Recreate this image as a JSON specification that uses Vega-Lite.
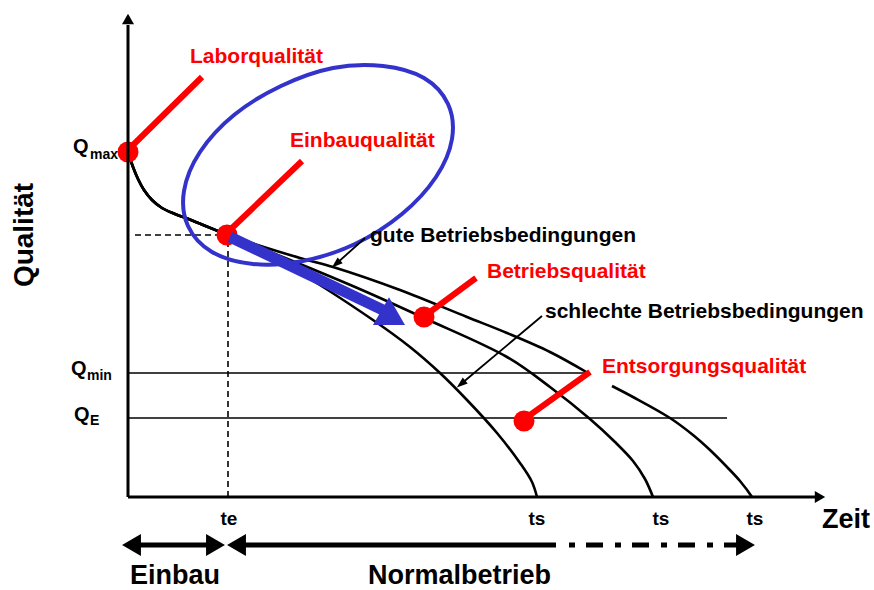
{
  "$schema": "https://vega.github.io/schema/vega-lite/v6.json",
  "width": 874,
  "height": 590,
  "autosize": "none",
  "padding": 0,
  "background": "white",
  "config": {"view": {"stroke": null}, "font": "Liberation Sans"},
  "datasets": {
    "kurven": [
      {"kurve": "gut_a", "i": 1, "zeit": 0, "qualitaet": 345},
      {"kurve": "gut_a", "i": 2, "zeit": 5, "qualitaet": 330},
      {"kurve": "gut_a", "i": 3, "zeit": 10, "qualitaet": 318},
      {"kurve": "gut_a", "i": 4, "zeit": 16, "qualitaet": 307},
      {"kurve": "gut_a", "i": 5, "zeit": 24, "qualitaet": 297},
      {"kurve": "gut_a", "i": 6, "zeit": 34, "qualitaet": 289},
      {"kurve": "gut_a", "i": 7, "zeit": 47, "qualitaet": 283},
      {"kurve": "gut_a", "i": 8, "zeit": 63, "qualitaet": 277},
      {"kurve": "gut_a", "i": 9, "zeit": 80, "qualitaet": 270},
      {"kurve": "gut_a", "i": 10, "zeit": 100, "qualitaet": 262},
      {"kurve": "gut_a", "i": 11, "zeit": 172, "qualitaet": 239},
      {"kurve": "gut_a", "i": 12, "zeit": 205, "qualitaet": 230},
      {"kurve": "gut_a", "i": 13, "zeit": 272, "qualitaet": 207},
      {"kurve": "gut_a", "i": 14, "zeit": 339, "qualitaet": 180},
      {"kurve": "gut_a", "i": 15, "zeit": 379, "qualitaet": 164},
      {"kurve": "gut_a", "i": 16, "zeit": 422, "qualitaet": 145},
      {"kurve": "gut_a", "i": 17, "zeit": 460, "qualitaet": 124},
      {"kurve": "gut_b", "i": 1, "zeit": 484, "qualitaet": 111},
      {"kurve": "gut_b", "i": 2, "zeit": 505, "qualitaet": 100},
      {"kurve": "gut_b", "i": 3, "zeit": 542, "qualitaet": 79},
      {"kurve": "gut_b", "i": 4, "zeit": 565, "qualitaet": 62},
      {"kurve": "gut_b", "i": 5, "zeit": 582, "qualitaet": 47},
      {"kurve": "gut_b", "i": 6, "zeit": 599, "qualitaet": 30},
      {"kurve": "gut_b", "i": 7, "zeit": 612, "qualitaet": 16},
      {"kurve": "gut_b", "i": 8, "zeit": 624, "qualitaet": 0},
      {"kurve": "mittel", "i": 1, "zeit": 0, "qualitaet": 345},
      {"kurve": "mittel", "i": 2, "zeit": 5, "qualitaet": 330},
      {"kurve": "mittel", "i": 3, "zeit": 10, "qualitaet": 318},
      {"kurve": "mittel", "i": 4, "zeit": 16, "qualitaet": 307},
      {"kurve": "mittel", "i": 5, "zeit": 24, "qualitaet": 297},
      {"kurve": "mittel", "i": 6, "zeit": 34, "qualitaet": 289},
      {"kurve": "mittel", "i": 7, "zeit": 47, "qualitaet": 283},
      {"kurve": "mittel", "i": 8, "zeit": 63, "qualitaet": 277},
      {"kurve": "mittel", "i": 9, "zeit": 80, "qualitaet": 270},
      {"kurve": "mittel", "i": 10, "zeit": 100, "qualitaet": 262},
      {"kurve": "mittel", "i": 11, "zeit": 172, "qualitaet": 233},
      {"kurve": "mittel", "i": 12, "zeit": 234, "qualitaet": 207},
      {"kurve": "mittel", "i": 13, "zeit": 296, "qualitaet": 179},
      {"kurve": "mittel", "i": 14, "zeit": 379, "qualitaet": 140},
      {"kurve": "mittel", "i": 15, "zeit": 422, "qualitaet": 110},
      {"kurve": "mittel", "i": 16, "zeit": 462, "qualitaet": 78},
      {"kurve": "mittel", "i": 17, "zeit": 487, "qualitaet": 55},
      {"kurve": "mittel", "i": 18, "zeit": 505, "qualitaet": 36},
      {"kurve": "mittel", "i": 19, "zeit": 517, "qualitaet": 18},
      {"kurve": "mittel", "i": 20, "zeit": 525, "qualitaet": 0},
      {"kurve": "schlecht", "i": 1, "zeit": 0, "qualitaet": 345},
      {"kurve": "schlecht", "i": 2, "zeit": 5, "qualitaet": 330},
      {"kurve": "schlecht", "i": 3, "zeit": 10, "qualitaet": 318},
      {"kurve": "schlecht", "i": 4, "zeit": 16, "qualitaet": 307},
      {"kurve": "schlecht", "i": 5, "zeit": 24, "qualitaet": 297},
      {"kurve": "schlecht", "i": 6, "zeit": 34, "qualitaet": 289},
      {"kurve": "schlecht", "i": 7, "zeit": 47, "qualitaet": 283},
      {"kurve": "schlecht", "i": 8, "zeit": 63, "qualitaet": 277},
      {"kurve": "schlecht", "i": 9, "zeit": 80, "qualitaet": 270},
      {"kurve": "schlecht", "i": 10, "zeit": 100, "qualitaet": 262},
      {"kurve": "schlecht", "i": 11, "zeit": 132, "qualitaet": 245},
      {"kurve": "schlecht", "i": 12, "zeit": 172, "qualitaet": 224},
      {"kurve": "schlecht", "i": 13, "zeit": 245, "qualitaet": 177},
      {"kurve": "schlecht", "i": 14, "zeit": 282, "qualitaet": 150},
      {"kurve": "schlecht", "i": 15, "zeit": 312, "qualitaet": 124},
      {"kurve": "schlecht", "i": 16, "zeit": 339, "qualitaet": 97},
      {"kurve": "schlecht", "i": 17, "zeit": 369, "qualitaet": 64},
      {"kurve": "schlecht", "i": 18, "zeit": 392, "qualitaet": 34},
      {"kurve": "schlecht", "i": 19, "zeit": 404, "qualitaet": 15},
      {"kurve": "schlecht", "i": 20, "zeit": 409, "qualitaet": 0}
    ],
    "ellipse": [
      {"i": 1, "zeit": 320, "qualitaet": 393},
      {"i": 2, "zeit": 324, "qualitaet": 358},
      {"i": 3, "zeit": 308, "qualitaet": 320},
      {"i": 4, "zeit": 274, "qualitaet": 283},
      {"i": 5, "zeit": 227, "qualitaet": 253},
      {"i": 6, "zeit": 175, "qualitaet": 236},
      {"i": 7, "zeit": 125, "qualitaet": 233},
      {"i": 8, "zeit": 84, "qualitaet": 245},
      {"i": 9, "zeit": 60, "qualitaet": 271},
      {"i": 10, "zeit": 56, "qualitaet": 306},
      {"i": 11, "zeit": 72, "qualitaet": 345},
      {"i": 12, "zeit": 106, "qualitaet": 382},
      {"i": 13, "zeit": 153, "qualitaet": 411},
      {"i": 14, "zeit": 205, "qualitaet": 429},
      {"i": 15, "zeit": 255, "qualitaet": 431},
      {"i": 16, "zeit": 296, "qualitaet": 419}
    ],
    "strecken": [
      {"art": "achse", "zeit": 0, "qualitaet": 0, "zeit2": 0, "qualitaet2": 472},
      {"art": "achse", "zeit": 0, "qualitaet": 0, "zeit2": 688, "qualitaet2": 0},
      {"art": "niveau", "name": "Qmin", "zeit": 0, "qualitaet": 124, "zeit2": 460, "qualitaet2": 124},
      {"art": "niveau", "name": "QE", "zeit": 0, "qualitaet": 79, "zeit2": 599, "qualitaet2": 79},
      {"art": "hilfslinie", "zeit": 7, "qualitaet": 262, "zeit2": 90, "qualitaet2": 262},
      {"art": "hilfslinie", "zeit": 100, "qualitaet": 0, "zeit2": 100, "qualitaet2": 252},
      {"art": "rot", "name": "Laborqualität", "zeit": 5, "qualitaet": 352, "zeit2": 74, "qualitaet2": 420},
      {"art": "rot", "name": "Einbauqualität", "zeit": 104, "qualitaet": 269, "zeit2": 174, "qualitaet2": 336},
      {"art": "rot", "name": "Betriebsqualität", "zeit": 302, "qualitaet": 185, "zeit2": 348, "qualitaet2": 219},
      {"art": "rot", "name": "Entsorgungsqualität", "zeit": 402, "qualitaet": 82, "zeit2": 462, "qualitaet2": 125},
      {"art": "blau", "zeit": 102, "qualitaet": 260, "zeit2": 257, "qualitaet2": 186},
      {"art": "zeiger", "name": "gut", "zeit": 237, "qualitaet": 259, "zeit2": 208, "qualitaet2": 233},
      {"art": "zeiger", "name": "schlecht", "zeit": 414, "qualitaet": 181, "zeit2": 333, "qualitaet2": 113},
      {"art": "phase", "name": "Einbau", "zeit": 7, "qualitaet": -48, "zeit2": 87, "qualitaet2": -48},
      {"art": "phase", "name": "Normalbetrieb", "zeit": 112, "qualitaet": -48, "zeit2": 428, "qualitaet2": -48},
      {"art": "phase_offen", "name": "Normalbetrieb", "zeit": 441, "qualitaet": -48, "zeit2": 612, "qualitaet2": -48}
    ],
    "spitzen": [
      {"art": "y_achse", "zeit": 0, "qualitaet": 478},
      {"art": "x_achse", "zeit": 692, "qualitaet": 0},
      {"art": "blau", "zeit": 265, "qualitaet": 179},
      {"art": "zeiger_gut", "zeit": 208, "qualitaet": 233},
      {"art": "zeiger_schlecht", "zeit": 333, "qualitaet": 113},
      {"art": "phase_links", "zeit": 3.5, "qualitaet": -48},
      {"art": "phase_links", "zeit": 108.5, "qualitaet": -48},
      {"art": "phase_rechts", "zeit": 87.5, "qualitaet": -48},
      {"art": "phase_rechts", "zeit": 617.5, "qualitaet": -48}
    ],
    "marken": [
      {"name": "Laborqualität", "zeit": 0, "qualitaet": 345},
      {"name": "Einbauqualität", "zeit": 99, "qualitaet": 262},
      {"name": "Betriebsqualität", "zeit": 296, "qualitaet": 180},
      {"name": "Entsorgungsqualität", "zeit": 396, "qualitaet": 76}
    ],
    "texte": [
      {"art": "rot", "text": "Laborqualität", "zeit": 62, "qualitaet": 434},
      {"art": "rot", "text": "Einbauqualität", "zeit": 162, "qualitaet": 350},
      {"art": "rot", "text": "Betriebsqualität", "zeit": 359, "qualitaet": 219},
      {"art": "rot", "text": "Entsorgungsqualität", "zeit": 474, "qualitaet": 124},
      {"art": "schwarz", "text": "gute Betriebsbedingungen", "zeit": 242, "qualitaet": 255},
      {"art": "schwarz", "text": "schlechte Betriebsbedingungen", "zeit": 417, "qualitaet": 179},
      {"art": "gross", "text": "Zeit", "zeit": 694, "qualitaet": -31},
      {"art": "gross", "text": "Einbau", "zeit": 2, "qualitaet": -87},
      {"art": "gross", "text": "Normalbetrieb", "zeit": 240, "qualitaet": -87},
      {"art": "tick", "text": "te", "zeit": 101, "qualitaet": -28},
      {"art": "tick", "text": "ts", "zeit": 409, "qualitaet": -28},
      {"art": "tick", "text": "ts", "zeit": 533, "qualitaet": -28},
      {"art": "tick", "text": "ts", "zeit": 627, "qualitaet": -28},
      {"art": "Q", "text": "Q", "zeit": -55, "qualitaet": 344},
      {"art": "Q", "text": "Q", "zeit": -57, "qualitaet": 122},
      {"art": "Q", "text": "Q", "zeit": -54, "qualitaet": 76},
      {"art": "index", "text": "max", "zeit": -38, "qualitaet": 338},
      {"art": "index", "text": "min", "zeit": -41, "qualitaet": 117},
      {"art": "index", "text": "E", "zeit": -38, "qualitaet": 72},
      {"art": "titel", "text": "Qualität", "zeit": -95, "qualitaet": 262}
    ]
  },
  "encoding": {
    "x": {"field": "zeit", "type": "quantitative", "scale": {"domain": [-128, 746], "nice": false, "zero": false}, "axis": null},
    "y": {"field": "qualitaet", "type": "quantitative", "scale": {"domain": [-93, 497], "nice": false, "zero": false}, "axis": null}
  },
  "layer": [
    {
      "data": {"name": "kurven"},
      "mark": {"type": "line", "interpolate": "catmull-rom", "color": "black", "strokeWidth": 2.6},
      "encoding": {"detail": {"field": "kurve"}, "order": {"field": "i", "type": "quantitative"}}
    },
    {
      "data": {"name": "strecken"},
      "transform": [{"filter": "datum.art === 'niveau'"}],
      "mark": {"type": "rule", "color": "black", "strokeWidth": 1.6},
      "encoding": {"x2": {"field": "zeit2"}, "y2": {"field": "qualitaet2"}}
    },
    {
      "data": {"name": "strecken"},
      "transform": [{"filter": "datum.art === 'hilfslinie'"}],
      "mark": {"type": "rule", "color": "black", "strokeWidth": 1.6, "strokeDash": [6, 4]},
      "encoding": {"x2": {"field": "zeit2"}, "y2": {"field": "qualitaet2"}}
    },
    {
      "data": {"name": "ellipse"},
      "mark": {"type": "line", "interpolate": "cardinal-closed", "color": "#3333CC", "strokeWidth": 4},
      "encoding": {"order": {"field": "i", "type": "quantitative"}}
    },
    {
      "data": {"name": "strecken"},
      "transform": [{"filter": "datum.art === 'rot'"}],
      "mark": {"type": "rule", "color": "#FF0000", "strokeWidth": 6},
      "encoding": {"x2": {"field": "zeit2"}, "y2": {"field": "qualitaet2"}}
    },
    {
      "data": {"name": "marken"},
      "mark": {"type": "point", "shape": "circle", "filled": true, "color": "#FF0000", "opacity": 1, "size": 441, "strokeWidth": 0}
    },
    {
      "data": {"name": "strecken"},
      "transform": [{"filter": "datum.art === 'blau'"}],
      "mark": {"type": "rule", "color": "#3333CC", "strokeWidth": 11},
      "encoding": {"x2": {"field": "zeit2"}, "y2": {"field": "qualitaet2"}}
    },
    {
      "data": {"name": "spitzen"},
      "transform": [{"filter": "datum.art === 'blau'"}],
      "mark": {"type": "point", "shape": "triangle-right", "angle": 30, "filled": true, "color": "#3333CC", "opacity": 1, "size": 1024, "strokeWidth": 0}
    },
    {
      "data": {"name": "strecken"},
      "transform": [{"filter": "datum.art === 'zeiger'"}],
      "mark": {"type": "rule", "color": "black", "strokeWidth": 1.8},
      "encoding": {"x2": {"field": "zeit2"}, "y2": {"field": "qualitaet2"}}
    },
    {
      "data": {"name": "spitzen"},
      "transform": [{"filter": "datum.art === 'zeiger_gut'"}],
      "mark": {"type": "point", "shape": "M-1,-0.7L1,0L-1,0.7Z", "angle": 139, "filled": true, "color": "black", "opacity": 1, "size": 121, "strokeWidth": 0}
    },
    {
      "data": {"name": "spitzen"},
      "transform": [{"filter": "datum.art === 'zeiger_schlecht'"}],
      "mark": {"type": "point", "shape": "M-1,-0.7L1,0L-1,0.7Z", "angle": 140, "filled": true, "color": "black", "opacity": 1, "size": 121, "strokeWidth": 0}
    },
    {
      "data": {"name": "strecken"},
      "transform": [{"filter": "datum.art === 'achse'"}],
      "mark": {"type": "rule", "color": "black", "strokeWidth": 3},
      "encoding": {"x2": {"field": "zeit2"}, "y2": {"field": "qualitaet2"}}
    },
    {
      "data": {"name": "spitzen"},
      "transform": [{"filter": "datum.art === 'y_achse'"}],
      "mark": {"type": "point", "shape": "triangle-up", "filled": true, "color": "black", "opacity": 1, "size": 144, "strokeWidth": 0}
    },
    {
      "data": {"name": "spitzen"},
      "transform": [{"filter": "datum.art === 'x_achse'"}],
      "mark": {"type": "point", "shape": "triangle-right", "filled": true, "color": "black", "opacity": 1, "size": 144, "strokeWidth": 0}
    },
    {
      "data": {"name": "strecken"},
      "transform": [{"filter": "datum.art === 'phase'"}],
      "mark": {"type": "rule", "color": "black", "strokeWidth": 5},
      "encoding": {"x2": {"field": "zeit2"}, "y2": {"field": "qualitaet2"}}
    },
    {
      "data": {"name": "strecken"},
      "transform": [{"filter": "datum.art === 'phase_offen'"}],
      "mark": {"type": "rule", "color": "black", "strokeWidth": 5, "strokeDash": [6, 11, 17, 12]},
      "encoding": {"x2": {"field": "zeit2"}, "y2": {"field": "qualitaet2"}}
    },
    {
      "data": {"name": "spitzen"},
      "transform": [{"filter": "datum.art === 'phase_links'"}],
      "mark": {"type": "point", "shape": "M0.86,-1L-0.86,0L0.86,1Z", "filled": true, "color": "black", "opacity": 1, "size": 484, "strokeWidth": 0}
    },
    {
      "data": {"name": "spitzen"},
      "transform": [{"filter": "datum.art === 'phase_rechts'"}],
      "mark": {"type": "point", "shape": "M-0.86,-1L0.86,0L-0.86,1Z", "filled": true, "color": "black", "opacity": 1, "size": 484, "strokeWidth": 0}
    },
    {
      "data": {"name": "texte"},
      "transform": [{"filter": "datum.art === 'rot'"}],
      "mark": {"type": "text", "align": "left", "baseline": "alphabetic", "font": "Liberation Sans", "fontWeight": "bold", "fontSize": 21, "color": "#FF0000"},
      "encoding": {"text": {"field": "text"}}
    },
    {
      "data": {"name": "texte"},
      "transform": [{"filter": "datum.art === 'schwarz'"}],
      "mark": {"type": "text", "align": "left", "baseline": "alphabetic", "font": "Liberation Sans", "fontWeight": "bold", "fontSize": 21, "color": "black"},
      "encoding": {"text": {"field": "text"}}
    },
    {
      "data": {"name": "texte"},
      "transform": [{"filter": "datum.art === 'gross'"}],
      "mark": {"type": "text", "align": "left", "baseline": "alphabetic", "font": "Liberation Sans", "fontWeight": "bold", "fontSize": 27, "color": "black"},
      "encoding": {"text": {"field": "text"}}
    },
    {
      "data": {"name": "texte"},
      "transform": [{"filter": "datum.art === 'tick'"}],
      "mark": {"type": "text", "align": "center", "baseline": "alphabetic", "font": "Liberation Sans", "fontWeight": "bold", "fontSize": 19, "color": "black"},
      "encoding": {"text": {"field": "text"}}
    },
    {
      "data": {"name": "texte"},
      "transform": [{"filter": "datum.art === 'Q'"}],
      "mark": {"type": "text", "align": "left", "baseline": "alphabetic", "font": "Liberation Sans", "fontWeight": "bold", "fontSize": 20, "color": "black"},
      "encoding": {"text": {"field": "text"}}
    },
    {
      "data": {"name": "texte"},
      "transform": [{"filter": "datum.art === 'index'"}],
      "mark": {"type": "text", "align": "left", "baseline": "alphabetic", "font": "Liberation Sans", "fontWeight": "bold", "fontSize": 14, "color": "black"},
      "encoding": {"text": {"field": "text"}}
    },
    {
      "data": {"name": "texte"},
      "transform": [{"filter": "datum.art === 'titel'"}],
      "mark": {"type": "text", "align": "center", "baseline": "alphabetic", "angle": 270, "font": "Liberation Sans", "fontWeight": "bold", "fontSize": 28, "color": "black"},
      "encoding": {"text": {"field": "text"}}
    }
  ]
}
